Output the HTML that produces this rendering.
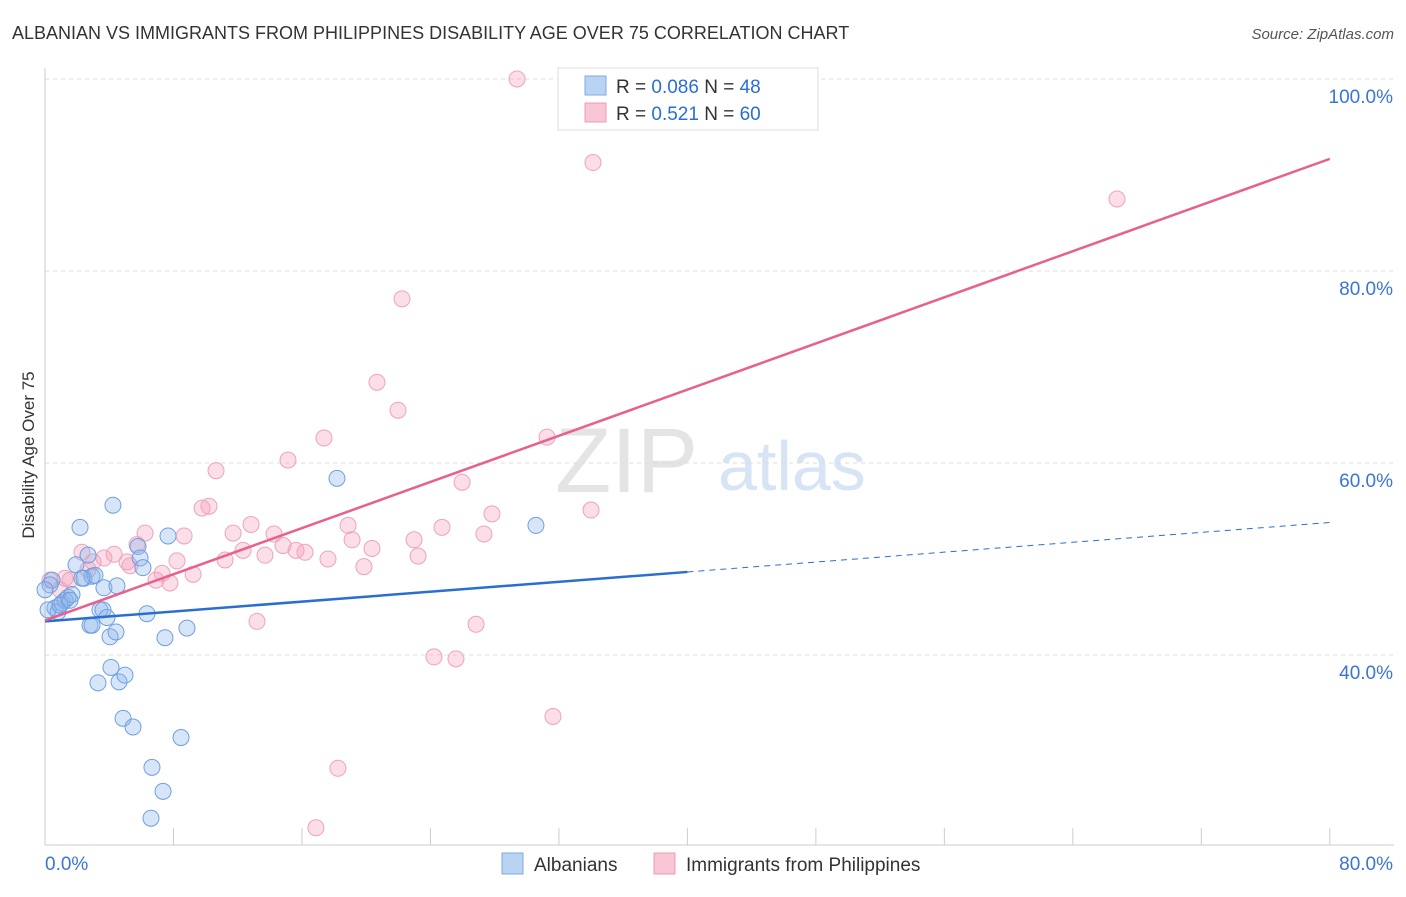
<!DOCTYPE html>
<html><head><meta charset="utf-8"><style>
body{margin:0;background:#fff;font-family:"Liberation Sans",sans-serif}
svg text{font-family:"Liberation Sans",sans-serif}
</style></head><body>
<svg id="chart" width="1406" height="892">
<text x="12" y="39" font-size="18" fill="#333">ALBANIAN VS IMMIGRANTS FROM PHILIPPINES DISABILITY AGE OVER 75 CORRELATION CHART</text>
<text x="1394" y="39" font-size="15" fill="#555" text-anchor="end" font-style="italic">Source: ZipAtlas.com</text>
<text x="555" y="492" font-size="92" fill="#e4e4e4" font-family="Liberation Serif">ZIP</text>
<text x="718" y="490" font-size="70" fill="#d6e4f5">atlas</text>
<g id="grid"></g>
<g id="axes"></g>
<g id="points"></g>
<g id="lines"></g>
<text transform="translate(34,455) rotate(-90)" font-size="17" fill="#333" text-anchor="middle">Disability Age Over 75</text>
<g>
<rect x="558" y="68" width="260" height="62" fill="#fff" stroke="#ddd"/>
<rect x="585" y="76" width="21" height="19" fill="#b9d3f3" stroke="#7ea9e0"/>
<rect x="585" y="103" width="21" height="19" fill="#f8c6d5" stroke="#ec9bb4"/>
<text x="616" y="93" font-size="19" fill="#333">R = <tspan fill="#2a6ed1">0.086</tspan>   N = <tspan fill="#2a6ed1">48</tspan></text>
<text x="616" y="120" font-size="19" fill="#333">R =  <tspan fill="#2a6ed1">0.521</tspan>   N = <tspan fill="#2a6ed1">60</tspan></text>
</g>
<g>
<rect x="502" y="853" width="21" height="21" fill="#b9d3f3" stroke="#7ea9e0"/>
<text x="534" y="871" font-size="19" fill="#333">Albanians</text>
<rect x="654" y="853" width="21" height="21" fill="#f8c6d5" stroke="#ec9bb4"/>
<text x="686" y="871" font-size="19" fill="#333">Immigrants from Philippines</text>
</g>
</svg>
<script>
const blueX=[0.44,0.62,0.81,1.06,1.25,1.43,1.68,1.93,2.18,2.43,2.68,2.93,3.11,2.80,2.93,3.30,3.42,3.61,3.67,3.86,4.05,4.11,4.23,4.42,4.48,4.61,4.86,4.98,5.48,5.79,5.92,6.10,6.35,6.66,7.35,7.47,7.66,6.60,8.47,8.84,18.18,30.57,0.19,0.31,0.93,1.56,2.30,0];
const blueY=[47.8,44.9,44.5,45.4,45.7,46.0,46.3,49.4,53.3,48.0,50.4,48.2,48.3,43.1,43.1,37.1,44.7,44.7,47.0,43.9,41.9,38.7,55.6,42.4,47.2,37.2,33.4,37.9,32.5,51.3,50.1,49.1,44.3,28.3,25.8,41.8,52.4,23.0,31.4,42.8,58.4,53.5,44.7,47.3,45.2,45.7,48.0,46.8];
const pinkX=[29.39,47.63,34.12,66.75,22.23,20.67,21.98,17.37,31.26,15.13,10.65,25.97,10.21,9.78,34.0,27.83,12.83,18.87,11.71,24.72,6.23,27.33,8.66,14.26,19.12,22.98,14.82,5.73,15.63,16.19,20.36,12.33,13.70,2.30,4.30,3.67,23.23,17.62,8.22,5.11,2.99,11.21,19.86,5.29,7.29,9.22,7.78,6.91,1.25,1.56,0.31,13.20,26.84,24.22,25.59,31.63,18.24,16.87,2.68,0.93];
const pinkY=[100,100,91.3,87.5,77.1,68.4,65.5,62.6,62.7,60.3,59.2,58.0,55.5,55.3,55.1,54.7,53.6,53.5,52.7,53.3,52.7,52.6,52.4,52.6,52.0,52.0,51.4,51.5,50.9,50.7,51.1,50.9,50.4,50.7,50.5,50.1,50.3,50.0,49.8,49.7,49.7,49.9,49.2,49.3,48.5,48.4,47.5,47.8,48.0,47.8,47.8,43.5,43.2,39.8,39.6,33.6,28.2,22.0,48.9,46.8];
const blueTrend=[43.5,0.1288]; // intercept, slope
const pinkTrend=[43.6,0.601];
const yTicks=[100,80,60,40];
const yTickLabels=["100.0%","80.0%","60.0%","40.0%"];
const xTicks=[0,8,16,24,32,40,48,56,64,72,80];
const NS="http://www.w3.org/2000/svg";
const sx=v=>45+v*16.06, sy=v=>79+(100-v)*9.6;
function mk(p,t,a){const e=document.createElementNS(NS,t);for(const k in a)e.setAttribute(k,a[k]);document.getElementById(p).appendChild(e);return e;}
yTicks.forEach((v,i)=>{
 const l=mk('grid','line',{x1:45,x2:1394,y1:sy(v),y2:sy(v),stroke:'#ddd','stroke-dasharray':'4,4'});
 
 
 const t=mk('axes','text',{x:1393,y:sy(v)+24,'font-size':19,fill:'#3a74d4','text-anchor':'end'});
 t.textContent=yTickLabels[i];
 
 
});
let a=mk('axes','line',{x1:45,x2:1394,y1:845,y2:845,stroke:'#ccc'});


a=mk('axes','line',{x1:45,x2:45,y1:68,y2:845,stroke:'#ccc'});


xTicks.forEach(v=>{const l=mk('axes','line',{x1:sx(v),x2:sx(v),y1:828,y2:845,stroke:'#ccc'});
 
 });
let t=mk('axes','text',{x:45,y:870,'font-size':19,fill:'#3a74d4'});t.textContent='0.0%';


t=mk('axes','text',{x:1393,y:870,'font-size':19,fill:'#3a74d4','text-anchor':'end'});t.textContent='80.0%';


pinkX.forEach((x,i)=>{const c=mk('points','circle',{cx:sx(x),cy:sy(pinkY[i]),r:8,fill:'rgba(244,160,188,0.35)',stroke:'#eea3bb','stroke-width':1});
 
 });
blueX.forEach((x,i)=>{const c=mk('points','circle',{cx:sx(x),cy:sy(blueY[i]),r:8,fill:'rgba(140,180,235,0.35)',stroke:'#6f9fe0','stroke-width':1});
 
 });
const bl=mk('lines','line',{x1:sx(0),y1:sy(blueTrend[0]),x2:sx(40),y2:sy(blueTrend[0]+blueTrend[1]*40),stroke:'#2a6ed1','stroke-width':2.5});


const bd=mk('lines','line',{x1:sx(40),y1:sy(blueTrend[0]+blueTrend[1]*40),x2:sx(80),y2:sy(blueTrend[0]+blueTrend[1]*80),stroke:'#2a6ed1','stroke-width':1,'stroke-dasharray':'6,5'});


const pl=mk('lines','line',{x1:sx(0),y1:sy(pinkTrend[0]),x2:sx(80),y2:sy(pinkTrend[0]+pinkTrend[1]*80),stroke:'#e8608c','stroke-width':2.5});


</script>
</body></html>
